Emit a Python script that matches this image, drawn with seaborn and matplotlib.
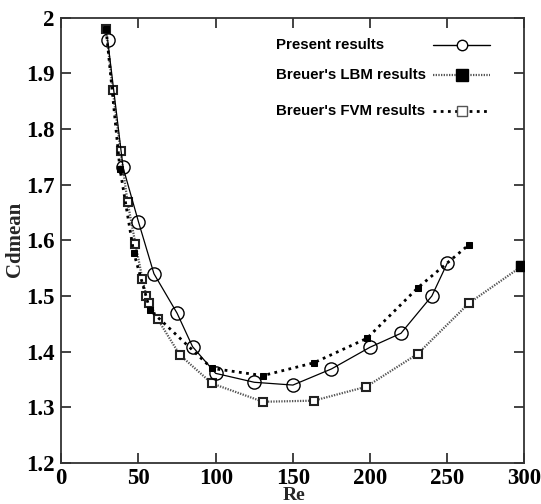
import matplotlib
matplotlib.use("Agg")
import matplotlib.pyplot as plt
from matplotlib.lines import Line2D
import seaborn as sns
import pandas as pd

# Mean drag coefficient versus Reynolds number
present_re = [30, 40, 50, 60, 75, 85, 100, 125, 150, 175, 200, 220, 240, 250]
present_cd = [1.960, 1.731, 1.633, 1.540, 1.469, 1.409, 1.361, 1.345, 1.340, 1.369, 1.408, 1.433, 1.500, 1.559]

lbm_re = [29, 38, 47, 57.4, 97.5, 130.6, 163.6, 198, 231, 264]
lbm_cd = [1.979, 1.728, 1.577, 1.475, 1.370, 1.357, 1.380, 1.424, 1.515, 1.592]

fvm_re = [29, 33.3, 38.4, 42.9, 48, 52.5, 55.1, 57, 62.5, 76.8, 97.5, 130.6, 163.6, 197.5, 230.8, 264, 298]
fvm_cd = [1.979, 1.870, 1.760, 1.669, 1.594, 1.531, 1.500, 1.488, 1.458, 1.394, 1.343, 1.310, 1.312, 1.337, 1.396, 1.487, 1.553]

x_ticks = [0, 50, 100, 150, 200, 250, 300]
y_ticks = [1.2, 1.3, 1.4, 1.5, 1.6, 1.7, 1.8, 1.9, 2.0]
y_tick_labels = ["1.2", "1.3", "1.4", "1.5", "1.6", "1.7", "1.8", "1.9", "2"]

labels = ["Present results", "Breuer's LBM results", "Breuer's FVM results"]

sns.set_theme(style="ticks")
plt.rcParams["font.family"] = ["Liberation Serif", "DejaVu Serif"]

fig = plt.figure(figsize=(5.41, 5.04), dpi=100)
ax = fig.add_axes([0.1133, 0.0813, 0.8562, 0.8839])

present = pd.DataFrame({"Re": present_re, "Cd": present_cd})
lbm = pd.DataFrame({"Re": lbm_re, "Cd": lbm_cd})
fvm = pd.DataFrame({"Re": fvm_re, "Cd": fvm_cd})

# Lower series: fine grey dots with open squares
sns.lineplot(data=fvm, x="Re", y="Cd", ax=ax, sort=False, estimator=None,
             color="#555555", linewidth=1.6, linestyle=(0, (0.6, 0.6)),
             marker="s", markersize=5.5, markerfacecolor="white",
             markeredgecolor="#222222", markeredgewidth=1.5, zorder=3)
# its end point at Re ~ 300 is drawn solid
ax.plot(fvm["Re"].iloc[-1:], fvm["Cd"].iloc[-1:], linestyle="none", marker="s",
        markersize=7, color="black", zorder=4)
# Upper series: coarse black dots with filled markers
sns.lineplot(data=lbm, x="Re", y="Cd", ax=ax, sort=False, estimator=None,
             color="black", linewidth=2.0, linestyle=(0, (1.0, 1.6)),
             marker="s", markersize=5, markerfacecolor="black",
             markeredgecolor="black", zorder=4)
# Present results: thin solid line with open circles
sns.lineplot(data=present, x="Re", y="Cd", ax=ax, sort=False, estimator=None,
             color="black", linewidth=0.9, linestyle="-",
             marker="o", markersize=9.5, markerfacecolor="none",
             markeredgecolor="black", markeredgewidth=1.0, zorder=5)

ax.set_xlim(0, 300)
ax.set_ylim(1.2, 2.0)
ax.set_xticks(x_ticks)
ax.set_yticks(y_ticks)
ax.set_yticklabels(y_tick_labels)
ax.tick_params(direction="in", length=7, width=1.2, top=True, right=True,
               labelsize=16.5, colors="#222222")
ax.tick_params(axis="y", pad=5)
ax.tick_params(axis="x", pad=3.5)
for lab in ax.get_xticklabels() + ax.get_yticklabels():
    lab.set_fontweight("bold")
    lab.set_color("black")
for sp in ax.spines.values():
    sp.set_linewidth(1.3)
    sp.set_color("#333333")

ax.set_xlabel("Re", fontsize=14, fontweight="bold")
ax.xaxis.label.set_verticalalignment("center")
ax.xaxis.set_label_coords(0.502, -0.0735)
ax.set_ylabel("Cdmean", fontsize=15, fontweight="bold")
ax.yaxis.set_label_coords(-0.079, 0.503)
ax.grid(False)

# Legend entries: label text on the left, line sample on the right
sans = ["Liberation Sans", "DejaVu Sans"]
rows = [0.938, 0.872, 0.791]
handle_styles = [
    dict(color="black", linewidth=1.0, linestyle="-", marker="o", markersize=7.5,
         markerfacecolor="white", markeredgecolor="black"),
    dict(color="#555555", linewidth=1.6, linestyle=(0, (0.6, 0.6)), marker="s", markersize=9,
         markerfacecolor="black", markeredgecolor="black"),
    dict(color="black", linewidth=2.0, linestyle=(0, (1.0, 1.6)), marker="s", markersize=7,
         markerfacecolor="white", markeredgecolor="#555555", markeredgewidth=1.0),
]
for label, yr, style in zip(labels, rows, handle_styles):
    ax.text(0.4635, yr, label, transform=ax.transAxes, fontsize=10.8, fontweight="bold",
            family=sans, va="center", ha="left", color="black")
    ax.add_line(Line2D([0.802, 0.925], [yr, yr], transform=ax.transAxes,
                       **{k: v for k, v in style.items() if not k.startswith("marker")}))
    ax.add_line(Line2D([0.864], [yr], transform=ax.transAxes, linestyle="none",
                       **{k: v for k, v in style.items() if k.startswith("marker")}))

fig.savefig("out.png", dpi=100, facecolor="white")
